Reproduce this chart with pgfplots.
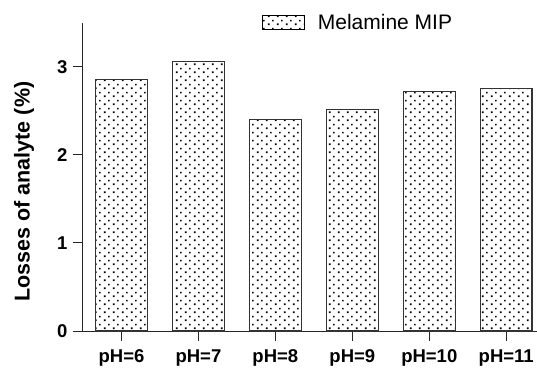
\documentclass[border=0pt]{standalone}
\usepackage{fontspec}
\setmainfont{Liberation Sans}
\usepackage{pgfplots}
\pgfplotsset{compat=1.18}
\usetikzlibrary{patterns}
\pgfdeclarepatternformonly{mydots}{\pgfpoint{0pt}{0pt}}{\pgfpoint{8.6pt}{7.6pt}}{\pgfpoint{8.6pt}{7.6pt}}{
 \pgfpathrectangle{\pgfpoint{1pt}{1pt}}{\pgfpoint{1.7pt}{1.7pt}}
 \pgfpathrectangle{\pgfpoint{5.3pt}{4.8pt}}{\pgfpoint{1.7pt}{1.7pt}}
 \pgfusepath{fill}}
\begin{document}
\begin{tikzpicture}
\path[use as bounding box] (-83pt,-37pt) rectangle (454pt,331pt);
\begin{axis}[
  scale only axis, width=454pt, height=308.4pt,
  xmin=-0.5, xmax=5.4, ymin=0, ymax=3.5,
  axis x line=bottom, axis y line=left,
  axis line style={-, black!85, line width=1pt},
  xtick={0,1,2,3,4,5},
  xticklabels={pH=6,pH=7,pH=8,pH=9,pH=10,pH=11},
  ytick={0,1,2,3},
  tick align=outside, major tick length=10pt,
  tick style={black!85, line width=1pt},
  ticklabel style={font=\fontsize{18.5}{20}\selectfont\bfseries},
  /pgf/number format/assume math mode=true,
  xticklabel style={yshift=-5pt},
  yticklabel style={xshift=-2pt},
  clip=false,
  ylabel={Losses of analyte (\%)},
  ylabel style={font=\fontsize{21.5}{24}\selectfont\bfseries, at={(axis description cs:-0.130,0.452)}, anchor=center},
  legend style={at={(axis description cs:0.394,1.0)}, anchor=west, draw=none, fill=none, inner sep=0pt,
    font=\fontsize{21}{24}\selectfont, nodes={inner sep=2pt},
    /tikz/every odd column/.append style={column sep=11pt}},
  legend image code/.code={\draw[pattern=mydots, draw=black, line width=0.8pt] (0pt,-7pt) rectangle (42pt,7pt);},
]
\addplot[ybar, bar width=0.67, draw=black!80, pattern=mydots, line width=1.1pt]
  coordinates {(0,2.857) (1,3.057) (2,2.40) (3,2.51) (4,2.72) (5,2.75)};
\addlegendentry{Melamine MIP}
\draw[black!85, line width=1pt] (axis cs:-0.63,0) -- (axis cs:-0.5,0);
\end{axis}
\end{tikzpicture}
\end{document}
